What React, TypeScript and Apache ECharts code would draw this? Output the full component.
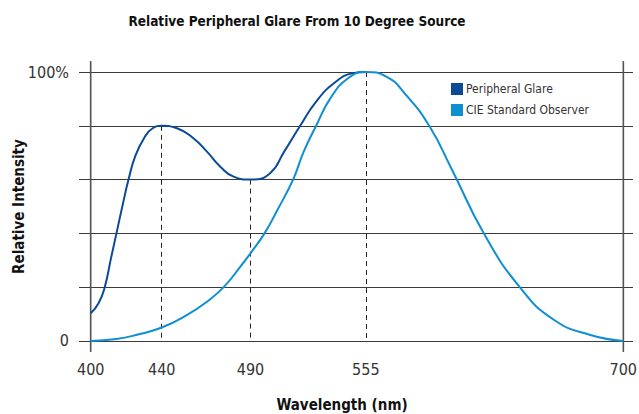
import React, { useEffect, useRef } from "react";
import * as echarts from "echarts";

const titleText = "Relative Peripheral Glare From 10 Degree Source";
const xTickLabels = [400, 440, 490, 555, 700];
const yTickLabels = [0, 100];
const gridValues = [0, 20, 40, 60, 80, 100];
const axisVerticals = [400, 700];
const markerWavelengths = [440, 490, 555];

const glareWavelengths = [400, 404.4, 407.9, 411.4, 414.5, 418, 421.3, 425.3, 430.6, 434.9, 440, 448.6, 458, 465.5, 473, 480.5, 490, 500.9, 509, 518, 527, 537, 547.2, 555];
const glareValues = [10.3, 14.0, 20, 30.7, 40, 50.6, 60, 69.1, 76, 79.1, 80, 79.1, 75.3, 70.4, 64.8, 61.1, 60, 62.3, 70.4, 80, 89, 95.8, 99.5, 100];

const cieWavelengths = [400, 414.5, 427.1, 440, 454.3, 465.5, 474.9, 484.3, 490, 497.9, 505, 514, 520, 527, 535, 545, 555, 566.5, 577.7, 590.7, 603.6, 621.5, 641.6, 661.1, 681.5, 700];
const cieValues = [0, 0.7, 2.5, 5.0, 9.7, 14.6, 20, 27.6, 32.6, 40, 48.5, 60, 70.4, 80, 90.2, 97.7, 100, 98.3, 91.4, 80, 63.6, 40, 20.1, 7.8, 2.2, 0];

const FONT = "'DejaVu Sans Condensed', 'Liberation Sans Narrow', Roboto, sans-serif";

const W = 639;
const H = 414;
const GRID = { left: 79, right: 6, top: 61, bottom: 62 };
const X_MIN = 393.4;
const X_MAX = 705.5;
const Y_MIN = -4.1;
const Y_MAX = 104.1;

export default function App() {
  const ref = useRef<HTMLDivElement>(null);
  useEffect(() => {
    document.body.style.margin = "0";
    if (!ref.current) return;
    const chart = echarts.init(ref.current, undefined, { renderer: "svg" });
    const glare = glareWavelengths.map((w, i) => [w, glareValues[i]]);
    const cie = cieWavelengths.map((w, i) => [w, cieValues[i]]);

    const lineData: any[] = [];
    gridValues.forEach((v) => lineData.push({ yAxis: v }));
    axisVerticals.forEach((w) =>
      lineData.push([
        { coord: [w, Y_MIN + 0.2], lineStyle: { color: "#555", width: 1.3, type: "solid" } },
        { coord: [w, Y_MAX - 0.2] },
      ])
    );
    markerWavelengths.forEach((w) => {
      const idx = glareWavelengths.indexOf(w);
      const top = glareValues[idx];
      lineData.push([
        { coord: [w, top], lineStyle: { color: "#222", width: 1, type: [5, 4] } },
        { coord: [w, 0] },
      ]);
    });

    chart.setOption({
      animation: false,
      backgroundColor: "#fff",
      textStyle: { fontFamily: FONT },
      title: {
        text: titleText,
        left: 292,
        top: 9,
        textAlign: "center",
        textStyle: { fontFamily: FONT, fontSize: 13.5, fontWeight: "bold", color: "#111" },
      },
      legend: {
        orient: "vertical",
        left: 451,
        top: 83,
        itemWidth: 12,
        itemHeight: 12,
        itemGap: 9,
        padding: 0,
        icon: "rect",
        textStyle: { fontFamily: FONT, fontSize: 12, color: "#333", padding: [0, 0, 0, -2] },
        data: ["Peripheral Glare", "CIE Standard Observer"],
      },
      grid: { ...GRID, containLabel: false, outerBoundsMode: "none" },
      xAxis: {
        type: "value",
        min: X_MIN,
        max: X_MAX,
        name: "Wavelength (nm)",
        nameLocation: "middle",
        nameGap: 45,
        nameMoveOverlap: false,
        nameTextStyle: { fontFamily: FONT, fontSize: 15, fontWeight: "bold", color: "#111", padding: [0, 28, 0, 0] },
        axisLine: { show: false },
        axisTick: { show: false },
        splitLine: { show: false },
        axisLabel: {
          customValues: xTickLabels,
          margin: 9,
          fontFamily: FONT,
          fontSize: 16,
          color: "#333",
          formatter: (v: number) => String(v),
        },
      },
      yAxis: {
        type: "value",
        min: Y_MIN,
        max: Y_MAX,
        position: "left",
        name: "Relative Intensity",
        nameLocation: "middle",
        nameGap: 53,
        nameRotate: 90,
        nameMoveOverlap: false,
        nameTextStyle: { fontFamily: FONT, fontSize: 15, fontWeight: "bold", color: "#111" },
        axisLine: { show: false },
        axisTick: { show: false },
        splitLine: { show: false },
        axisLabel: {
          customValues: yTickLabels,
          margin: 10,
          fontFamily: FONT,
          fontSize: 16,
          color: "#333",
          formatter: (v: number) => (v === 100 ? "100%" : String(v)),
        },
      },
      series: [
        {
          name: "Peripheral Glare",
          type: "line",
          data: glare,
          smooth: 0.5,
          showSymbol: false,
          symbol: "none",
          color: "#0b4a97",
          lineStyle: { color: "#0b4a97", width: 2 },
          z: 3,
        },
        {
          name: "CIE Standard Observer",
          type: "line",
          data: cie,
          smooth: 0.5,
          showSymbol: false,
          symbol: "none",
          color: "#0e8fd3",
          lineStyle: { color: "#0e8fd3", width: 2 },
          z: 4,
        },
        {
          name: "guides",
          type: "line",
          data: [],
          silent: true,
          markLine: {
            silent: true,
            z: 1,
            symbol: ["none", "none"],
            label: { show: false },
            lineStyle: { color: "#3a3a3a", width: 1.2, type: "solid" },
            emphasis: { disabled: true },
            data: lineData,
          },
        },
      ],
    });

    const frameLines = axisVerticals.map((w) => {
      const p1 = chart.convertToPixel({ gridIndex: 0 }, [w, Y_MIN]) as number[];
      const p2 = chart.convertToPixel({ gridIndex: 0 }, [w, Y_MAX]) as number[];
      return {
        type: "rect",
        silent: true,
        z: 1,
        shape: { x: p1[0] - 0.6, y: p2[1], width: 1.3, height: p1[1] - p2[1] },
        style: { fill: "#555" },
      };
    });
    chart.setOption({ graphic: frameLines });

    return () => chart.dispose();
  }, []);
  return <div ref={ref} style={{ width: W, height: H }} />;
}
